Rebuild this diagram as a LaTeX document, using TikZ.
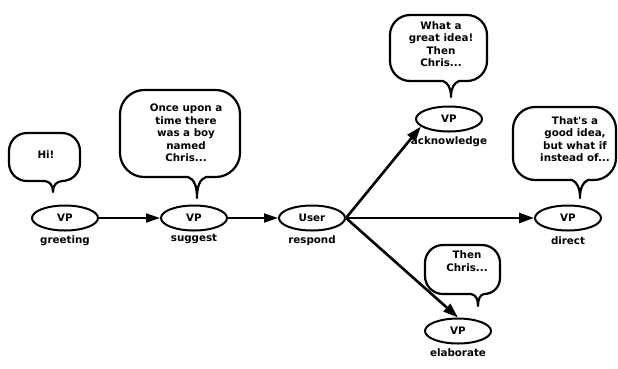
\documentclass[tikz,border=0pt]{standalone}
\usepackage{fontspec}
\setmainfont{DejaVu Sans}
\usetikzlibrary{shapes.geometric,arrows.meta,positioning}

\begin{document}
\begin{tikzpicture}[x=1pt,y=-1pt,
  act/.style={draw, ellipse, line width=2pt, minimum width=66pt, minimum height=25pt, inner sep=0pt, font=\fontsize{10.3}{12.5}\bfseries\selectfont},
  tag/.style={inner sep=0.75pt, font=\fontsize{10.3}{12.5}\bfseries\selectfont},
  say/.style={inner sep=0.75pt, align=center, font=\fontsize{10.3}{12.5}\bfseries\selectfont},
  cloud/.style={line width=2.2pt, line join=round},
  flow/.style={-{Triangle[length=14pt,width=9pt]}, line width=2pt},
  fan/.style={-{Triangle[length=15pt,width=10pt]}, line width=2.6pt}]
\useasboundingbox (0,0) rectangle (618,368);

%Shape: Ellipse [greeting]
\node [act] (greet) at (65,218) {VP};
%Shape: Ellipse [suggest]
\node [act] (sugg) at (194,218) {VP};
%Shape: Ellipse [respond]
\node [act] (resp) at (312,218) {User};
%Shape: Ellipse [acknowledge]
\node [act] (ack) at (449,119) {VP};
%Shape: Ellipse [direct]
\node [act] (dir) at (568,218) {VP};
%Shape: Ellipse [elaborate]
\node [act] (elab) at (458,331) {VP};

% Text Node
\node [tag, below=3pt of greet] (greetlbl) {greeting};
% Text Node
\node [tag, below=2pt of sugg] (sugglbl) {suggest};
% Text Node
\node [tag, below=3pt of resp] (resplbl) {respond};
% Text Node
\node [tag, below=3pt of ack] (acklbl) {acknowledge};
% Text Node
\node [tag, below=4pt of dir] (dirlbl) {direct};
% Text Node
\node [tag, below=3pt of elab] (elablbl) {elaborate};

%Shape: Callout [greeting]
\draw [cloud] (45,181) -- (27,181) .. controls (17,181) and (9,173) .. (9,163) -- (9,151) .. controls (9,141) and (17,133) .. (27,133) -- (62,133) .. controls (72,133) and (80,141) .. (80,151) -- (80,163) .. controls (80,173) and (72,181) .. (62,181) .. controls (56,182) and (53,185) .. (53,192) .. controls (53,185) and (50,182) .. (45,181) -- cycle;
%Shape: Callout [suggest]
\draw [cloud] (188,177) -- (144,177) .. controls (131,177) and (120,166) .. (120,153) -- (120,114) .. controls (120,101) and (131,90) .. (144,90) -- (216,90) .. controls (229,90) and (240,101) .. (240,114) -- (240,153) .. controls (240,166) and (229,177) .. (216,177) -- (206,177) .. controls (200,179) and (197,186) .. (197,198) .. controls (197,186) and (194,179) .. (188,177) -- cycle;
%Shape: Callout [acknowledge]
\draw [cloud] (443,81) -- (410,81) .. controls (399,81) and (390,72) .. (390,61) -- (390,35) .. controls (390,24) and (399,15) .. (410,15) -- (467,15) .. controls (478,15) and (487,24) .. (487,35) -- (487,61) .. controls (487,72) and (478,81) .. (467,81) -- (459,81) .. controls (454,83) and (451,88) .. (451,97) .. controls (451,88) and (448,83) .. (443,81) -- cycle;
%Shape: Callout [direct]
\draw [cloud] (572,180) -- (535,180) .. controls (523,180) and (513,170) .. (513,158) -- (513,129) .. controls (513,117) and (523,107) .. (535,107) -- (594,107) .. controls (606,107) and (616,117) .. (616,129) -- (616,158) .. controls (616,170) and (606,180) .. (594,180) -- (588,180) .. controls (583,182) and (580,188) .. (580,198) .. controls (580,188) and (577,182) .. (572,180) -- cycle;
%Shape: Callout [elaborate]
\draw [cloud] (471,294) -- (443,294) .. controls (433,294) and (425,286) .. (425,276) -- (425,263) .. controls (425,253) and (433,245) .. (443,245) -- (482,245) .. controls (492,245) and (500,253) .. (500,263) -- (500,278) .. controls (500,287) and (493,294) .. (484,294) .. controls (480,295) and (478,299) .. (478,306) .. controls (478,299) and (476,295) .. (471,294) -- cycle;

% Text Node
\node [say] (hi) at (46,155) {Hi!};
% Text Node
\node [say] (once) at (186,133) {Once upon a\\time there\\was a boy\\named\\Chris...};
% Text Node
\node [say] (idea) at (441,44) {What a\\great idea!\\Then\\Chris...};
% Text Node
\node [say] (instead) at (575,139) {That\textquotesingle s a\\good idea,\\but what if\\instead of...};
% Text Node
\node [say] (then) at (467,261) {Then\\Chris...};

%Straight Lines
\draw [flow] (greet) -- (sugg);
\draw [flow] (sugg) -- (resp);
\draw [fan] (resp.east) -- (ack.195);
\draw [fan] (resp.east) -- (dir);
\draw [fan] (resp.east) -- (elab.north);

\end{tikzpicture}
\end{document}
